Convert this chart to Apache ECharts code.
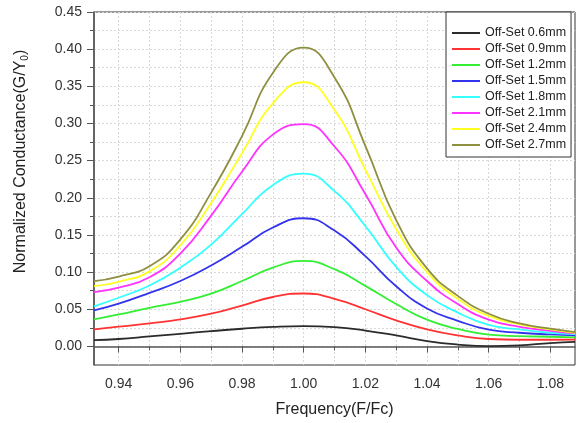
<!DOCTYPE html>
<html>
<head>
    <meta charset="UTF-8">
    <title>Normalized Conductance vs Frequency</title>
    <script src="https://cdn.jsdelivr.net/npm/echarts@6/dist/echarts.min.js"></script>
</head>
<body style="margin: 0;overflow: hidden;background: #fff;">
<div id="chart" style="width: 583px;height: 423px;"></div>
<script type="text/javascript">
    // frequency samples (F/Fc)
    var freq = [0.932, 0.94, 0.95, 0.96, 0.97, 0.98, 0.99, 1.00, 1.01, 1.02, 1.03, 1.04, 1.05, 1.06, 1.07, 1.08, 1.088];

    var names = ['Off-Set 0.6mm', 'Off-Set 0.9mm', 'Off-Set 1.2mm', 'Off-Set 1.5mm',
        'Off-Set 1.8mm', 'Off-Set 2.1mm', 'Off-Set 2.4mm', 'Off-Set 2.7mm'];
    var colors = ['#2b2b2b', '#ff3333', '#33ee33', '#3333ee', '#33ffff', '#ff33ff', '#ffff22', '#8f8f40'];

    var off06 = [0.0085, 0.0100, 0.0135, 0.0170, 0.0205, 0.0238, 0.0263, 0.0274, 0.0260, 0.0214, 0.0148, 0.0072, 0.0025, 0.0005, 0.0015, 0.0045, 0.0060];
    var off09 = [0.0228, 0.0265, 0.0310, 0.0365, 0.0440, 0.0550, 0.0665, 0.0712, 0.0640, 0.0500, 0.0350, 0.0230, 0.0148, 0.0100, 0.0090, 0.0090, 0.0092];
    var off12 = [0.0363, 0.0430, 0.0520, 0.0600, 0.0710, 0.0880, 0.1060, 0.1150, 0.1040, 0.0815, 0.0570, 0.0360, 0.0235, 0.0160, 0.0139, 0.0130, 0.0121];
    var off15 = [0.0484, 0.0575, 0.0720, 0.0880, 0.1090, 0.1340, 0.1600, 0.1725, 0.1560, 0.1214, 0.0810, 0.0510, 0.0345, 0.0225, 0.0184, 0.0161, 0.0148];
    var off18 = [0.0540, 0.0655, 0.0820, 0.1060, 0.1370, 0.1780, 0.2170, 0.2325, 0.2090, 0.1620, 0.1070, 0.0690, 0.0455, 0.0290, 0.0228, 0.0184, 0.0166];
    var off21 = [0.0730, 0.0790, 0.0930, 0.1250, 0.1760, 0.2350, 0.2850, 0.2990, 0.2690, 0.2050, 0.1330, 0.0880, 0.0570, 0.0360, 0.0264, 0.0211, 0.0175];
    var off24 = [0.0810, 0.0870, 0.1010, 0.1360, 0.1930, 0.2600, 0.3270, 0.3555, 0.3180, 0.2380, 0.1580, 0.1000, 0.0640, 0.0410, 0.0296, 0.0228, 0.0184];
    var off27 = [0.0878, 0.0940, 0.1080, 0.1440, 0.2070, 0.2830, 0.3680, 0.4020, 0.3620, 0.2700, 0.1700, 0.1050, 0.0680, 0.0440, 0.0310, 0.0238, 0.0192];
    var allSeries = [off06, off09, off12, off15, off18, off21, off24, off27];

    // tick labels
    var xMajor = [0.94, 0.96, 0.98, 1.00, 1.02, 1.04, 1.06, 1.08];
    var xMinor = [0.95, 0.97, 0.99, 1.01, 1.03, 1.05, 1.07];
    var yMajor = [0, 0.05, 0.10, 0.15, 0.20, 0.25, 0.30, 0.35, 0.40, 0.45];
    var yMinor = [0.025, 0.075, 0.125, 0.175, 0.225, 0.275, 0.325, 0.375, 0.425];

    var xAll = xMajor.concat(xMinor).sort(function (a, b) { return a - b; });
    var yAll = yMajor.concat(yMinor).sort(function (a, b) { return a - b; });

    var font = "'Liberation Sans', Arial, sans-serif";
    var gridLine = {show: true, lineStyle: {color: '#d8d8d8', type: [2, 2], width: 1}};

    var series = allSeries.map(function (vals, i) {
        return {
            name: names[i],
            type: 'line',
            smooth: 0.5,
            showSymbol: false,
            lineStyle: {color: colors[i], width: 1.8},
            itemStyle: {color: colors[i]},
            data: freq.map(function (f, k) { return [f, vals[k]]; })
        };
    });

    var chart = echarts.init(document.getElementById('chart'));
    chart.setOption({
        animation: false,
        backgroundColor: '#fff',
        textStyle: {fontFamily: font},
        grid: {
            left: 94, right: 8, top: 12, bottom: 57,
            show: true, borderColor: '#333', borderWidth: 1
        },
        legend: {
            orient: 'vertical',
            left: 446, top: 12,
            padding: [14, 5, 5, 6],
            itemGap: 2,
            itemWidth: 28,
            itemHeight: 2,
            icon: 'rect',
            borderColor: '#333',
            borderWidth: 1,
            backgroundColor: '#fff',
            textStyle: {fontSize: 12.5, color: '#222', lineHeight: 14, fontFamily: font},
            data: names
        },
        xAxis: [{
            type: 'value',
            min: 0.932, max: 1.088,
            position: 'bottom',
            name: 'Frequency(F/Fc)',
            nameLocation: 'middle',
            nameGap: 37,
            nameTextStyle: {fontSize: 16, color: '#222', fontFamily: font},
            axisLine: {show: true, lineStyle: {color: '#555', width: 1.5}},
            axisTick: {show: true, inside: false, length: 4, customValues: xAll, lineStyle: {color: '#555'}},
            axisLabel: {
                customValues: xMajor, margin: 12, fontSize: 14, color: '#333',
                formatter: function (v) { return v.toFixed(2); }
            },
            splitLine: gridLine
        }, {
            type: 'value',
            min: 0.932, max: 1.088,
            position: 'bottom',
            axisLine: {show: false},
            axisTick: {show: true, inside: false, length: 6, customValues: xMajor, lineStyle: {color: '#555'}},
            axisLabel: {show: false},
            splitLine: {show: false}
        }],
        yAxis: [{
            type: 'value',
            min: -0.025, max: 0.45,
            position: 'left',
            name: 'Normalized Conductance(G/Y{sub|0})',
            nameLocation: 'middle',
            nameGap: 64,
            nameTextStyle: {
                fontSize: 16, color: '#222', fontFamily: font,
                padding: [0, 0, 0, 54],
                rich: {sub: {fontSize: 10, color: '#222', verticalAlign: 'bottom', padding: [8, 0, 0, 0]}}
            },
            axisLine: {show: true, lineStyle: {color: '#555', width: 1.5}},
            axisTick: {show: true, inside: false, length: 4, customValues: yAll, lineStyle: {color: '#555'}},
            axisLabel: {
                customValues: yMajor, margin: 12, fontSize: 14, color: '#333',
                formatter: function (v) { return v.toFixed(2); }
            },
            splitLine: gridLine
        }, {
            type: 'value',
            min: -0.025, max: 0.45,
            position: 'left',
            axisLine: {show: false},
            axisTick: {show: true, inside: false, length: 7, customValues: yMajor, lineStyle: {color: '#555'}},
            axisLabel: {show: false},
            splitLine: {show: false}
        }],
        series: series
    });
</script>
</body>
</html>
